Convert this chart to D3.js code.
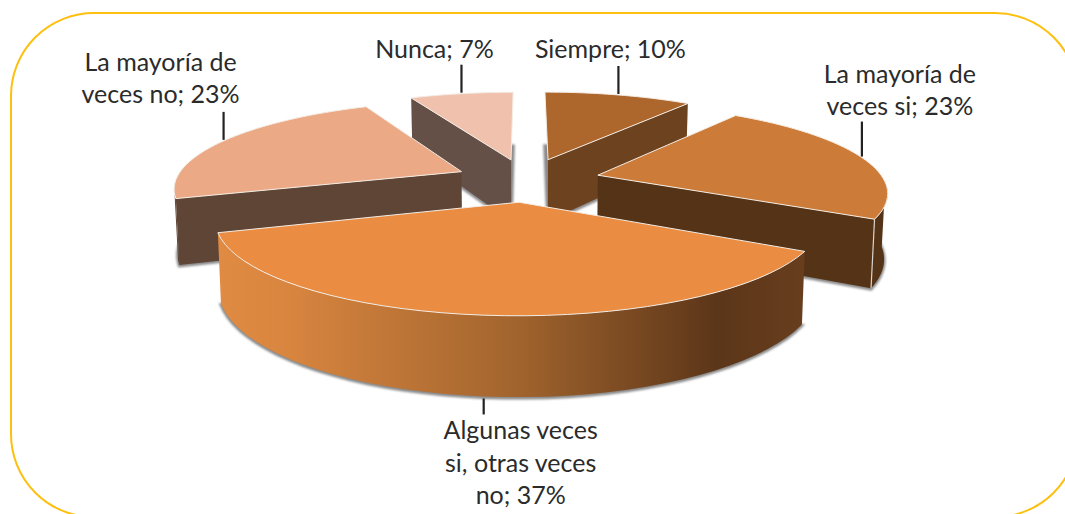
<!DOCTYPE html>
<html><head><meta charset="utf-8">
<style>html,body{margin:0;padding:0;background:#fff;overflow:hidden}svg{display:block}</style>
<script src="https://cdn.jsdelivr.net/npm/d3@7/dist/d3.min.js"></script>
</head><body>
<svg id="c" width="1065" height="514"></svg>
<script>
// Data
const categories = ["Siempre","La mayoría de veces si","Algunas veces si, otras veces no","La mayoría de veces no","Nunca"];
const values = [10,23,37,23,7];
const labelLines = [["Siempre; 10%"],["La mayoría de","veces si; 23%"],["Algunas veces","si, otras veces","no; 37%"],["La mayoría de","veces no; 23%"],["Nunca; 7%"]];
const topColors = ["#ad672d","#cc7c38","#ea8c42","#eca985","#f0c2ae"];
const wallColors = ["#6d421f","#553316","#6a3f1c","#5f4535","#655047"];
// which flat side of each slice faces the viewer: the end at its start angle or its end angle
const visibleSide = ["end","end",null,"start","start"];
// how far each slice is pulled out of the pie
const explosion = [0.26,0.26,0.25,0.25,0.25];

// Projection of the tilted pie (unit circle → screen, with perspective)
const P = {cx:526, cy:180, a:286, b:85.5, persp:0.171, depth:64, shrink:0.99};
const labelLayout = [
  {rise:28, dx:-8, top:-8},
  {rise:35, dx:38, top:-39},
  {rise:17, dx:37, top:25},
  {rise:28, dx:-63, top:-41},
  {rise:28, dx:-27, top:-7}
];
const lineH = 32.5;

const svg = d3.select("#c");
const defs = svg.append("defs");
defs.append("filter").attr("id","blur").attr("x","-10%").attr("y","-10%").attr("width","120%").attr("height","120%")
  .append("feGaussianBlur").attr("stdDeviation",1.3);
const grad = defs.append("linearGradient").attr("id","wallGrad").attr("gradientUnits","userSpaceOnUse")
  .attr("x1",218).attr("x2",805).attr("y1",0).attr("y2",0);
[[0,"#e08b43"],[0.12,"#d8853f"],[0.5,"#a3652e"],[0.85,"#5c3619"],[1,"#683e1d"]]
  .forEach(s=>grad.append("stop").attr("offset",s[0]).attr("stop-color",s[1]));

// Border
svg.append("rect").attr("x",11).attr("y",13).attr("width",1067).attr("height",504)
  .attr("rx",83).attr("ry",83).attr("fill","#fff").attr("stroke","#fdc010").attr("stroke-width",2);

const arcs = d3.pie().sort(null).value(d=>d)(values);
const line = d3.line();
const deg = Math.PI/180;

function project(u,v,h){
  const s = 1/(1-P.persp*v);
  const k = h ? P.shrink : 1;
  return [P.cx + P.a*u*s*k, P.cy + P.b*v*s + h*P.depth*s];
}
function offset(d){ const m=(d.startAngle+d.endAngle)/2, e=explosion[d.index]; return [e*Math.sin(m), -e*Math.cos(m)]; }
function rim(d,ang,h){ const o=offset(d); return project(o[0]+Math.sin(ang), o[1]-Math.cos(ang), h); }
function rimPts(d,a0,a1,h){ return d3.range(0,41).map(i=>rim(d,a0+(a1-a0)*i/40,h)); }
function apex(d,h){ const o=offset(d); return project(o[0],o[1],h); }

// back-to-front drawing order
const order = [4,0,3,1,2];
const g = svg.append("g");
order.forEach(i=>{
  const d = arcs[i];
  const sl = g.append("g").attr("class","slice");
  const base = [apex(d,1),...rimPts(d,d.startAngle,d.endAngle,1)];
  // soft shadow
  sl.append("path").attr("d",line(base)+"Z").attr("fill","#8a8a8a").attr("stroke","#8a8a8a")
    .attr("stroke-width",3).attr("filter","url(#blur)").attr("transform","translate(0,1)");
  // flat side
  if(visibleSide[i]){
    const ang = visibleSide[i]==="end"?d.endAngle:d.startAngle;
    const poly=[apex(d,0),rim(d,ang,0),rim(d,ang,1),apex(d,1)];
    sl.append("path").attr("d",line(poly)+"Z").attr("fill",wallColors[i]);
  }
  // outer wall, only the part that faces the viewer
  const a0=Math.max(d.startAngle,95*deg), a1=Math.min(d.endAngle,255*deg);
  if(a1>a0){
    const poly=[...rimPts(d,a0,a1,0),...rimPts(d,a0,a1,1).reverse()];
    sl.append("path").attr("d",line(poly)+"Z").attr("fill",i===2?"url(#wallGrad)":wallColors[i]);
    // pale corner edge where the side meets the rim
    if(visibleSide[i]==="end"){
      sl.append("path").attr("d",line([rim(d,d.endAngle,0),rim(d,d.endAngle,1)]))
        .attr("stroke","#d9d4cf").attr("stroke-width",1.2).attr("fill","none");
    }
  }
  // top face
  const top=[apex(d,0),...rimPts(d,d.startAngle,d.endAngle,0)];
  sl.append("path").attr("d",line(top)+"Z").attr("fill",topColors[i])
    .attr("stroke","#f4ece4").attr("stroke-width",1).attr("stroke-linejoin","round");
});

// Leaders and labels
arcs.forEach((d,i)=>{
  const m=(d.startAngle+d.endAngle)/2, L=labelLayout[i];
  const below = i===2;
  const p = rim(d,m,below?1:0);
  const y1 = below ? p[1]+2 : p[1]-1;
  const y2 = below ? y1+L.rise-1 : y1-L.rise;
  svg.append("line").attr("x1",p[0]).attr("x2",p[0]).attr("y1",y1).attr("y2",y2)
    .attr("stroke","#222").attr("stroke-width",2.2);
  const t = svg.append("text").attr("text-anchor","middle").attr("font-family","Lato, 'Open Sans', sans-serif")
    .attr("font-size",25).attr("fill","#2b2b2b");
  labelLines[i].forEach((s,j)=>{
    t.append("tspan").attr("x",p[0]+L.dx).attr("y",y2+L.top+j*lineH).text(s);
  });
});
</script>
</body></html>
